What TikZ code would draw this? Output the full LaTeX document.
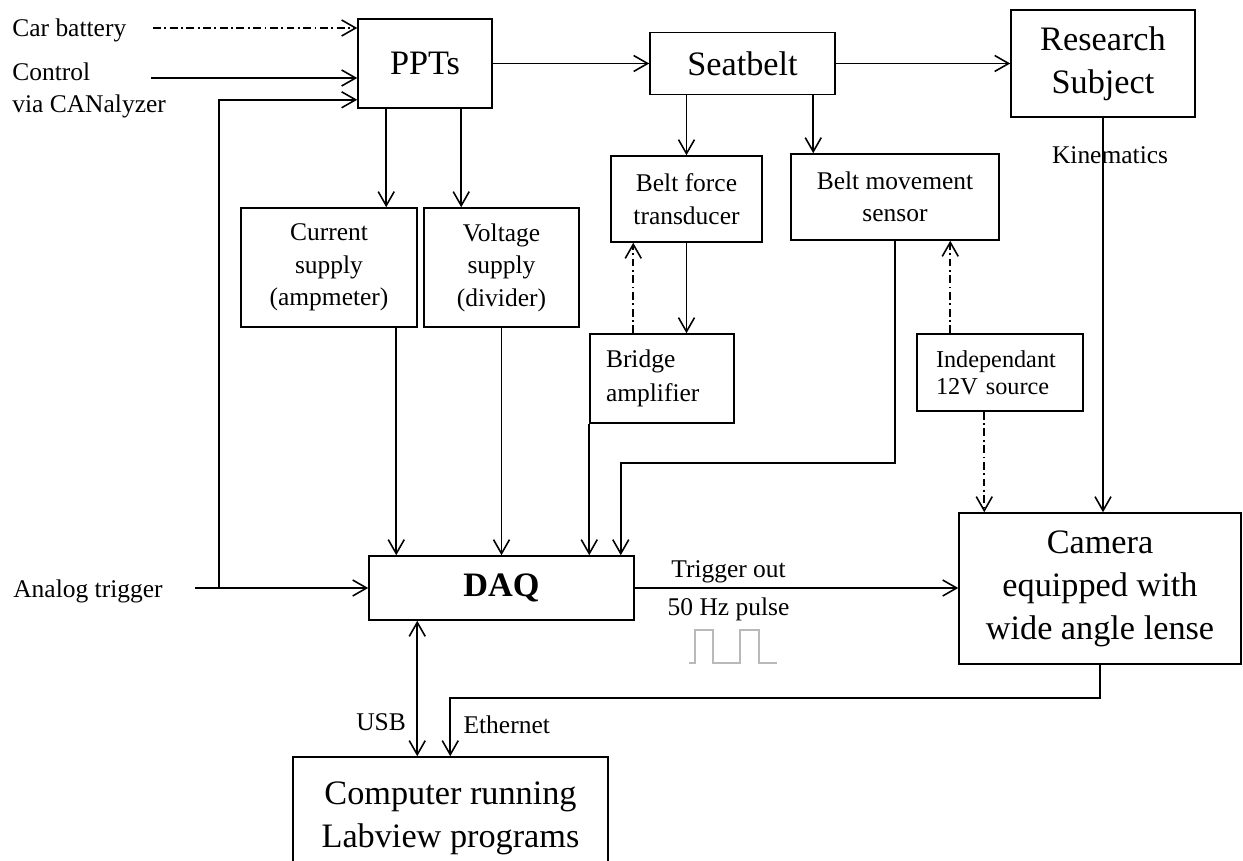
\documentclass[tikz,border=0pt]{standalone}
\usepackage{fontspec}
\setmainfont{Liberation Serif}
\usetikzlibrary{arrows.meta,calc}
\newcommand\bigtxt{\fontsize{19.5}{24.5}\selectfont}
\newcommand\midtxt{\fontsize{14.5}{18.5}\selectfont}
\newcommand\smalltxt{\fontsize{13.8}{15.5}\selectfont}
\tikzset{
  blk/.style={draw, rectangle, line width=0.9pt, align=center, inner sep=0pt},
  bigblk/.style={blk, font=\bigtxt},
  midblk/.style={blk, font=\midtxt},
  lbl/.style={font=\midtxt, inner sep=0pt},
  arr/.style={-{Straight Barb[length=2.8mm,width=3.2mm]}, line width=0.9pt},
  dotarr/.style={arr, dash pattern=on 4.5pt off 2pt on 1pt off 2pt},
  bothway/.style={{Straight Barb[length=2.8mm,width=3.2mm]}-{Straight Barb[length=2.8mm,width=3.2mm]}, line width=0.9pt},
  pulse/.style={gray!55, line width=0.8pt}
}

\begin{document}
\begin{tikzpicture}[x=0.02cm,y=-0.02cm]
  \clip (0,0) rectangle (1243,861);
  % blocks
  \node[bigblk, minimum width=2.68cm, minimum height=1.78cm] (ppts) at (425,63.5) {PPTs};
  \node[bigblk, minimum width=3.7cm, minimum height=1.24cm] (seatbelt) at (742.5,63.5) {Seatbelt};
  \node[bigblk, minimum width=3.68cm, minimum height=2.14cm] (research) at (1103,63.5) {Research\\Subject};
  \node[midblk, minimum width=3.52cm, minimum height=2.38cm] (current) at (329,267.5) {Current\\supply\\(ampmeter)};
  \node[midblk, minimum width=3.1cm, minimum height=2.38cm] (voltage) at (501.5,267.5) {Voltage\\supply\\(divider)};
  \node[midblk, minimum width=3.02cm, minimum height=1.72cm] (force) at (686.5,199) {Belt force\\transducer};
  \node[midblk, minimum width=4.16cm, minimum height=1.72cm] (movement) at (895,197) {Belt movement\\sensor};
  \node[blk, font=\fontsize{14.5}{19.5}\selectfont, align=left, text width=2.24cm, inner xsep=0.32cm, minimum height=1.78cm] (bridge) at (662,378.5) {Bridge\\amplifier};
  \node[blk, font=\smalltxt, align=left, text width=2.56cm, inner xsep=0.38cm, minimum height=1.54cm] (source) at (1000,372.5) {Independant\\12V source};
  \node[bigblk, font=\bigtxt\bfseries, minimum width=5.3cm, minimum height=1.28cm] (daq) at (501.5,588) {DAQ};
  \node[bigblk, minimum width=5.64cm, minimum height=3.02cm] (camera) at (1100,588.5) {Camera\\equipped with\\wide angle lense};
  \node[bigblk, minimum width=6.3cm, minimum height=2.46cm] (computer) at (450.5,818.5) {Computer running\\Labview programs};

  % inputs
  \node[lbl, anchor=base west] (bat) at (12,37) {Car battery};
  \node[lbl, anchor=north west, align=left] (ctl) at (12,62) {Control\\via CANalyzer};
  \node[lbl, anchor=base west] (ana) at (13,597) {Analog trigger};
  \coordinate (batin) at (153,28);
  \coordinate (ctlin) at (151,78);
  \coordinate (trigin) at (195,588);
  \coordinate (tap) at (219,588);
  \draw[dotarr] (batin) -- (batin -| ppts.west);
  \draw[arr] (ctlin) -- (ctlin -| ppts.west);
  \draw[arr] (trigin) -- (trigin -| daq.west);
  \draw[arr] (tap) |- ($(ppts.south west)+(0,-9)$);

  % top row
  \draw[arr] (ppts.east) -- (seatbelt.west);
  \draw[arr] (seatbelt.east) -- (research.west);
  \draw[arr] ($(ppts.south west)+(29,0)$) coordinate (p1) -- (p1 |- current.north);
  \draw[arr] ($(ppts.south west)+(104,0)$) coordinate (p2) -- (p2 |- voltage.north);
  \draw[arr] (seatbelt.south -| force.north) -- (force.north);
  \coordinate (m1) at ($(movement.north west)+(23,0)$);
  \draw[arr] (seatbelt.south -| m1) -- (m1);

  % sensors
  \draw[arr] (force.south) -- (force.south |- bridge.north);
  \draw[dotarr] ($(bridge.north west)+(44,0)$) coordinate (b1) -- (b1 |- force.south);
  \draw[dotarr] ($(source.north west)+(34,0)$) coordinate (s1) -- (s1 |- movement.south);
  \draw[dotarr] ($(source.south west)+(68,0)$) coordinate (s2) -- (s2 |- camera.north);
  \draw[arr] (research.south) -- node[lbl, pos=0.096, xshift=4pt] (kin) {Kinematics} (research.south |- camera.north);

  % into the DAQ
  \draw[arr] ($(current.south west)+(156,0)$) coordinate (c1) -- (c1 |- daq.north);
  \draw[arr] (voltage.south) -- (voltage.south |- daq.north);
  \draw[arr] (bridge.south west) -- (bridge.south west |- daq.north);
  \draw[arr] (movement.south) -- ++(0,222) -| ($(daq.north east)+(-14,0)$);

  % DAQ out
  \draw[arr] (daq.east) -- node[lbl, above=2.5pt, pos=0.29] (trig) {Trigger out}
    node[lbl, below=5pt, pos=0.29] (hz) {50 Hz pulse} (daq.east -| camera.west);
  \draw[pulse] (689,663) -- ++(6,0) -- ++(0,-33) -- ++(18,0) -- ++(0,33) -- ++(27,0)
    -- ++(0,-33) -- ++(19,0) -- ++(0,33) -- ++(18,0);
  \draw[bothway] ($(daq.south west)+(49,0)$) coordinate (u1) -- node[lbl, left=6pt, pos=0.745] (usb) {USB} (u1 |- computer.north);
  \draw[arr] (camera.south) -- ++(0,33) -| ($(computer.north west)+(158,0)$) coordinate (e1);
  \node[lbl, anchor=west] (eth) at ($(e1)+(13,-31)$) {Ethernet};
\end{tikzpicture}
\end{document}
